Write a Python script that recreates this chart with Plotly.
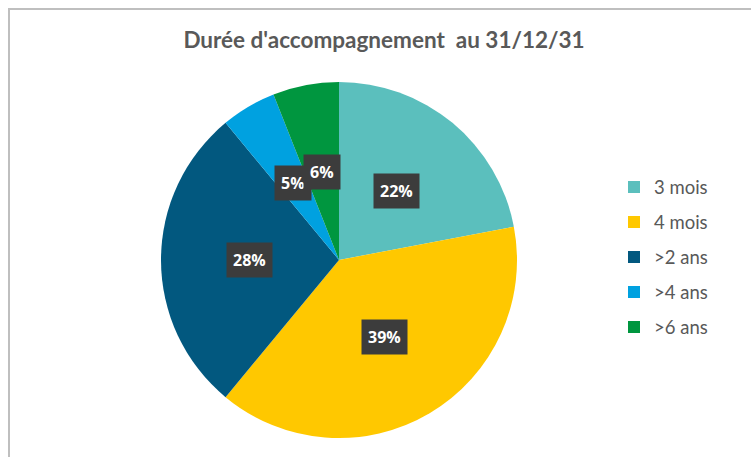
import math
import plotly.graph_objects as go

categories = ["3 mois", "4 mois", ">2 ans", ">4 ans", ">6 ans"]
values = [22, 39, 28, 5, 6]
colors = ["#5BBFBD", "#FFC800", "#02587F", "#00A1E0", "#00963F"]
title_text = "Durée d'accompagnement  au 31/12/31"

W, H = 751, 457
# pie domain (paper fractions)
dom_x = [161 / W, 517 / W]
dom_y = [(H - 438) / H, (H - 82) / H]

legend_font_size = 24.6  # sets row spacing
label_html = [f"<span style=\"baseline-shift:3.5px;font-size:18.5px\">{c}</span>" for c in categories]

fig = go.Figure()
fig.add_trace(go.Pie(
    labels=label_html,
    values=values,
    marker=dict(colors=colors, line=dict(width=0)),
    sort=False,
    direction="clockwise",
    rotation=0,
    textinfo="none",
    hoverinfo="label+percent",
    domain=dict(x=dom_x, y=dom_y),
))

# data labels (dark boxes) placed at half radius along each slice's mid-angle
cx = (dom_x[0] + dom_x[1]) / 2 * W
cy = H - (dom_y[0] + dom_y[1]) / 2 * H
R = min((dom_x[1] - dom_x[0]) * W, (dom_y[1] - dom_y[0]) * H) / 2
total = sum(values)
cum = 0
for v in values:
    mid = (cum + v / 2) / total * 2 * math.pi
    cum += v
    r = 0.505 * R
    px = cx + r * math.sin(mid)
    py = cy - r * math.cos(mid)
    fig.add_annotation(
        x=px / W, y=1 - py / H, xref="paper", yref="paper",
        text=f"<b>{round(v / total * 100)}%</b>", showarrow=False,
        font=dict(family="Open Sans, Arial", size=16, color="white"),
        bgcolor="#3C3C3C", borderpad=6,
        xanchor="center", yanchor="middle",
    )

fig.add_shape(type="rect", xref="paper", yref="paper",
              x0=9 / W, x1=1.02, y0=-0.02, y1=1 - 9 / H,
              line=dict(color="#BFBFBF", width=2), layer="below")

fig.update_layout(
    width=W, height=H,
    margin=dict(l=0, r=0, t=0, b=0),
    paper_bgcolor="white", plot_bgcolor="white",
    title=dict(text=title_text, x=384 / W, xanchor="center", y=1 - 40 / H, yanchor="middle",
               font=dict(family="Lato, Open Sans", size=22.5, color="#595959", weight="bold")),
    showlegend=True,
    legend=dict(x=614 / W, xanchor="left", y=1 - 164.5 / H, yanchor="top",
                font=dict(family="Lato, Open Sans", size=legend_font_size, color="#595959"),
                bgcolor="rgba(0,0,0,0)"),
)

fig.write_html("out.html")
